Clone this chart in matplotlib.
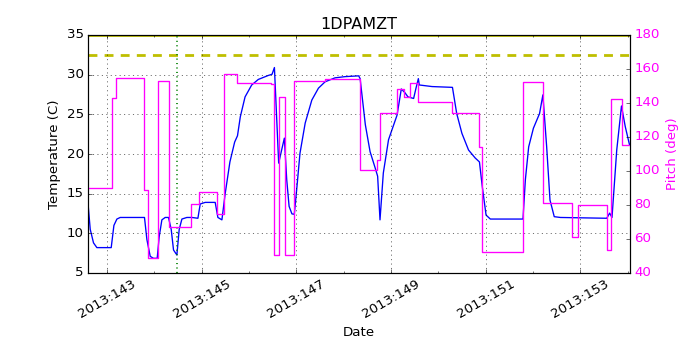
"""
1DPAMZT temperature vs pitch over days 2013:143 - 2013:154
"""
import matplotlib
matplotlib.use('Agg')
import matplotlib.pyplot as plt
import matplotlib.ticker as ticker

plt.style.use('classic')

# blue: 1DPAMZT temperature (C), day of year 2013
temp_day = [142.607, 142.65, 142.719, 142.79, 143.093, 143.15, 143.213, 143.283,
            143.796, 143.847, 143.917, 143.986, 144.064, 144.107, 144.163, 144.233,
            144.303, 144.36, 144.409, 144.48, 144.529, 144.586, 144.69, 144.797,
            144.924, 144.973, 145.078, 145.289, 145.346, 145.431, 145.5, 145.6,
            145.70, 145.76, 145.82, 145.92, 146.06, 146.20, 146.41, 146.49,
            146.54, 146.63, 146.70, 146.75, 146.80, 146.85, 146.91, 146.96,
            147.01, 147.08, 147.19, 147.33, 147.47, 147.61, 147.82, 148.03,
            148.32, 148.35, 148.46, 148.56, 148.67, 148.72, 148.77, 148.84,
            148.95, 149.13, 149.22, 149.30, 149.36, 149.48, 149.53, 149.58,
            149.60, 149.87, 150.30, 150.39, 150.50, 150.64, 150.78, 150.87,
            150.93, 151.01, 151.10, 151.79, 151.84, 151.91, 152.01, 152.14,
            152.21, 152.29, 152.36, 152.45, 152.58, 153.56, 153.62, 153.67,
            153.77, 153.87, 153.95, 154.04]
temp_c = [13.5, 10.5, 8.8, 8.2, 8.2, 11.0, 11.8, 12.0,
          12.0, 9.2, 7.1, 6.85, 6.85, 9.6, 11.7, 12.0,
          12.0, 10.5, 7.9, 7.27, 10.5, 11.8, 12.0, 12.0,
          11.9, 13.7, 13.9, 13.9, 12.0, 11.7, 15.0, 19.0,
          21.5, 22.3, 24.7, 27.2, 28.7, 29.4, 29.9, 30.05,
          30.9, 18.85, 20.7, 22.0, 16.75, 13.4, 12.45, 12.4,
          15.5, 20.1, 23.9, 26.8, 28.3, 29.1, 29.6, 29.75,
          29.85, 29.5, 23.7, 20.3, 18.2, 17.2, 11.7, 17.6,
          21.8, 24.9, 28.2, 27.7, 27.2, 27.0, 28.3, 29.5,
          28.7, 28.5, 28.4, 25.1, 22.6, 20.5, 19.5, 19.0,
          15.9, 12.3, 11.8, 11.8, 16.75, 20.9, 23.25, 25.1,
          27.45, 20.9, 14.2, 12.1, 12.0, 11.9, 12.55, 12.0,
          20.5, 26.05, 23.45, 21.15]

# magenta: pitch (deg), step changes
pitch_day = [142.607, 143.108, 143.19, 143.775, 143.874, 144.071, 144.303, 144.782,
             144.937, 145.325, 145.465, 145.76, 146.466, 146.54, 146.64, 146.753,
             146.958, 147.613, 148.337, 148.704, 148.774, 149.127, 149.287, 149.408,
             149.583, 150.301, 150.871, 150.934, 151.80, 152.223, 152.823, 152.962,
             153.562, 153.652, 153.878, 154.05]
pitch_deg = [90, 143, 155, 89, 49, 153, 67, 80.5,
             87.5, 75, 157, 152, 151, 50.7, 143.4, 50.7,
             153.2, 154, 100.7, 106.6, 134.4, 148.3, 143.8, 151.6,
             140.8, 134, 114, 52.1, 152.6, 81.1, 61.1, 80.1,
             53.7, 142.2, 115.4, 115.4]

planning_limit = 32.5
max_limit = 35.0
marker_day = 144.472

major_days = [143, 145, 147, 149, 151, 153]
minor_days = [144, 146, 148, 150, 152, 154]
tick_labels = ['2013:%d' % d for d in major_days]

MAG = '#ff00ff'

fig, ax = plt.subplots(figsize=(8.75, 4.375), dpi=80)
fig.subplots_adjust(left=0.126, right=0.9, top=0.9, bottom=0.22)

ax.plot(temp_day, temp_c, 'b-', lw=1.2)
ax.axhline(max_limit, color='y', lw=2.5)
ax.axhline(planning_limit, color='y', lw=2.5, ls='--', dashes=(8, 6.5))
ax.axvline(marker_day, color='g', ls=':', lw=1.5)

ax.set_xlim(pitch_day[0], pitch_day[-1])
ax.set_ylim(5, 35)
ax.xaxis.set_major_locator(ticker.FixedLocator(major_days))
ax.xaxis.set_minor_locator(ticker.FixedLocator(minor_days))
ax.set_xticklabels(tick_labels)
ax.tick_params(axis='x', labelrotation=30)
ax.grid(True)
ax.set_xlabel('Date')
ax.set_ylabel('Temperature (C)')
ax.set_title('1DPAMZT')

ax2 = ax.twinx()
ax2.plot(pitch_day, pitch_deg, '-', color=MAG, lw=1.2, drawstyle='steps-post')
ax2.set_ylim(40, 180)
ax2.set_xlim(pitch_day[0], pitch_day[-1])
ax2.set_ylabel('Pitch (deg)', color=MAG)
for t in ax2.get_yticklabels():
    t.set_color(MAG)

fig.savefig('out.png', dpi=80, facecolor='white')
